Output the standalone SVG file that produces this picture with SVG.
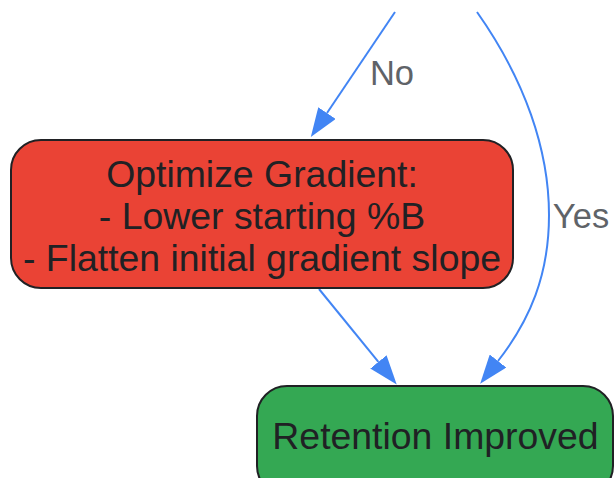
<svg xmlns="http://www.w3.org/2000/svg" width="615" height="478" viewBox="0 0 615 478">
<style>
.node rect{stroke:#202124;stroke-width:2}
.ntext{font-family:"Liberation Sans",Arial,sans-serif;font-size:37.4px;fill:#202124;text-anchor:middle}
.edge{fill:none;stroke:#4285F4;stroke-width:2}
.label{font-family:"Liberation Sans",Arial,sans-serif;font-size:34.5px;fill:#5f6368;text-anchor:middle}
</style>
<defs>
<marker id="arrow" markerUnits="userSpaceOnUse" markerWidth="30" markerHeight="21" refX="0" refY="10.5" orient="auto" viewBox="0 0 30 21">
<path d="M0,0 L29,10.5 L0,21 z" fill="#4285F4"/>
</marker>
</defs>
<rect width="615" height="478" fill="#ffffff"/>
<g id="connectors">
<path class="edge" d="M395,12 L327,113" marker-end="url(#arrow)"/>
<path class="edge" d="M477,12 C525,80 549,150 549,215 C549,275 530,320 498,361" marker-end="url(#arrow)"/>
<path class="edge" d="M319,289 L378.4,361.9" marker-end="url(#arrow)"/>
<text class="label" x="392" y="85">No</text>
<text class="label" x="581" y="228">Yes</text>
</g>
<g id="optimize" class="node">
<rect x="11" y="140" width="502" height="148" rx="30" ry="30" fill="#EA4335"/>
<text class="ntext" x="262" y="187">Optimize Gradient:</text>
<text class="ntext" x="262" y="229">- Lower starting %B</text>
<text class="ntext" x="262" y="271">- Flatten initial gradient slope</text>
</g>
<g id="improved" class="node">
<rect x="257" y="386" width="356" height="110" rx="30" ry="30" fill="#34A853"/>
<text class="ntext" x="435.5" y="449">Retention Improved</text>
</g>
</svg>
